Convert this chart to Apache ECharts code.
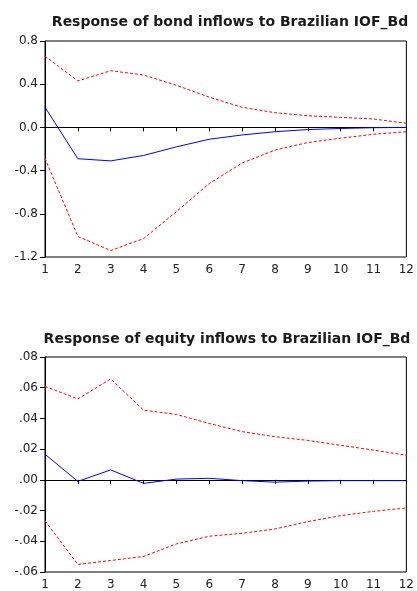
<!DOCTYPE html>
<html><head><meta charset="utf-8">
<script src="https://cdn.jsdelivr.net/npm/echarts@6/dist/echarts.min.js"></script>
<style>html,body{margin:0;padding:0;background:#fff}#c{width:417px;height:591px}</style>
</head><body><div id="c"></div>
<script>
var periods = [1,2,3,4,5,6,7,8,9,10,11,12];
var title1 = "Response of bond inflows to Brazilian IOF_Bd";
var title2 = "Response of equity inflows to Brazilian IOF_Bd";
var bondIrf   = [0.186,-0.29,-0.31,-0.26,-0.18,-0.11,-0.07,-0.04,-0.02,-0.01,-0.003,0.0];
var bondUpper = [0.66,0.43,0.525,0.485,0.39,0.28,0.186,0.136,0.108,0.093,0.078,0.038];
var bondLower = [-0.286,-1.01,-1.14,-1.03,-0.78,-0.52,-0.33,-0.21,-0.14,-0.10,-0.064,-0.04];
var eqIrf   = [0.0167,-0.001,0.0065,-0.0023,0.0005,0.001,-0.0005,-0.0015,-0.0008,-0.0005,-0.0005,-0.0005];
var eqUpper = [0.0609,0.0527,0.0657,0.0454,0.0426,0.0367,0.0314,0.0281,0.0257,0.0225,0.0194,0.016];
var eqLower = [-0.0266,-0.0551,-0.0525,-0.0499,-0.0417,-0.0367,-0.0348,-0.032,-0.0272,-0.0233,-0.0205,-0.0183];

function pairs(a){ return a.map(function(v,i){ return [periods[i], v]; }); }
var font = "DejaVu Sans";
function xAxis(gi){
  return {type:'value', gridIndex:gi, min:1, max:12, interval:1,
    axisLine:{show:true, lineStyle:{color:'#000'}},
    axisTick:{show:true, length:4, lineStyle:{color:'#000'}},
    axisLabel:{color:'#222', fontFamily:font, fontSize:12, margin:7},
    splitLine:{show:false}};
}
function yAxis(gi, min, max, interval, fmt){
  return {type:'value', gridIndex:gi, min:min, max:max, interval:interval,
    axisLine:{show:true, onZero:false, lineStyle:{color:'#000'}},
    axisTick:{show:true, length:5, lineStyle:{color:'#000'}},
    axisLabel:{color:'#222', fontFamily:font, fontSize:12, margin:7, formatter:fmt},
    splitLine:{show:false}};
}
function line(gi, data, color, dashed, zero){
  var s = {type:'line', xAxisIndex:gi, yAxisIndex:gi, data:pairs(data), symbol:'none',
    lineStyle:{color:color, width:1, type: dashed ? [3,2] : 'solid'}, silent:true, z: dashed?3:4};
  if (zero) s.markLine = {silent:true, symbol:'none', label:{show:false},
    lineStyle:{color:'#000', type:'solid', width:1}, data:[{yAxis:0}], z:2};
  return s;
}
var fmt1 = function(v){ return (Math.round(v*10)/10).toFixed(1); };
var fmt2 = function(v){ var s=(Math.round(v*100)/100).toFixed(2); return s.replace(/^(-?)0\./,'$1.'); };
var chart = echarts.init(document.getElementById('c'), null, {renderer:'canvas'});
chart.setOption({
  animation:false,
  backgroundColor:'#fff',
  title:[
    {text:title1, left:225, top:10, textAlign:'center', textStyle:{fontFamily:font, fontSize:14, fontWeight:'bold', color:'#1a1a1a'}},
    {text:title2, left:222, top:327, textAlign:'center', textStyle:{fontFamily:font, fontSize:14, fontWeight:'bold', color:'#1a1a1a'}}
  ],
  grid:[
    {left:45, top:41, width:362, height:216, show:true, borderColor:'#000', borderWidth:1, backgroundColor:'transparent'},
    {left:45, top:357, width:362, height:216, show:true, borderColor:'#000', borderWidth:1, backgroundColor:'transparent'}
  ],
  xAxis:[xAxis(0), xAxis(1)],
  yAxis:[yAxis(0,-1.2,0.8,0.4,fmt1), yAxis(1,-0.06,0.08,0.02,fmt2)],
  series:[
    line(0, bondIrf, '#0000ff', false, true),
    line(0, bondUpper, '#ff0000', true),
    line(0, bondLower, '#ff0000', true),
    line(1, eqIrf, '#0000ff', false, true),
    line(1, eqUpper, '#ff0000', true),
    line(1, eqLower, '#ff0000', true)
  ]
});
</script></body></html>
